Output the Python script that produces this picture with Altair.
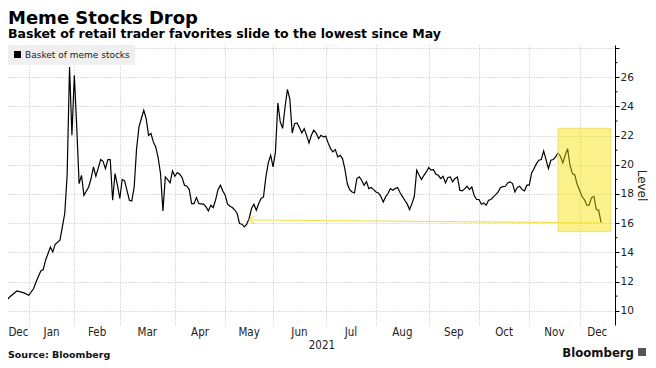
import numpy as np
import pandas as pd
import altair as alt

TITLE = "Meme Stocks Drop"
SUBTITLE = "Basket of retail trader favorites slide to the lowest since May"
SERIES = "Basket of meme stocks"
SOURCE = "Source: Bloomberg"
LOGO = "Bloomberg"
Y_TITLE = "Level"
YEAR = "2021"

dates = [
    "2020-12-15", "2020-12-16", "2020-12-18", "2020-12-21", "2020-12-24", "2020-12-30",
    "2021-01-04", "2021-01-06", "2021-01-07", "2021-01-11", "2021-01-12", "2021-01-13",
    "2021-01-15", "2021-01-19", "2021-01-20", "2021-01-22", "2021-01-25", "2021-01-26",
    "2021-01-27", "2021-01-28", "2021-01-29",
    "2021-02-01", "2021-02-02", "2021-02-03", "2021-02-04", "2021-02-05", "2021-02-09",
    "2021-02-10", "2021-02-11", "2021-02-12", "2021-02-17", "2021-02-18", "2021-02-19",
    "2021-02-22", "2021-02-23", "2021-02-24", "2021-02-25", "2021-02-26",
    "2021-03-01", "2021-03-02", "2021-03-03", "2021-03-05", "2021-03-08", "2021-03-09",
    "2021-03-10", "2021-03-11", "2021-03-12", "2021-03-15", "2021-03-16", "2021-03-17",
    "2021-03-18", "2021-03-19", "2021-03-22", "2021-03-23", "2021-03-24", "2021-03-25",
    "2021-03-26", "2021-03-29", "2021-03-30", "2021-03-31",
    "2021-04-01", "2021-04-05", "2021-04-06", "2021-04-07", "2021-04-08", "2021-04-09",
    "2021-04-12", "2021-04-13", "2021-04-14", "2021-04-15", "2021-04-16", "2021-04-20",
    "2021-04-21", "2021-04-22", "2021-04-23", "2021-04-26", "2021-04-27", "2021-04-28",
    "2021-04-29", "2021-04-30",
    "2021-05-03", "2021-05-04", "2021-05-05", "2021-05-06", "2021-05-07", "2021-05-10",
    "2021-05-11", "2021-05-12", "2021-05-13", "2021-05-14", "2021-05-17", "2021-05-18",
    "2021-05-19", "2021-05-20", "2021-05-21", "2021-05-24", "2021-05-25", "2021-05-26",
    "2021-05-27", "2021-05-28",
    "2021-06-01", "2021-06-02", "2021-06-03", "2021-06-04", "2021-06-07", "2021-06-08",
    "2021-06-09", "2021-06-10", "2021-06-11", "2021-06-14", "2021-06-15", "2021-06-16",
    "2021-06-17", "2021-06-18", "2021-06-21", "2021-06-22", "2021-06-23", "2021-06-24",
    "2021-06-25", "2021-06-28", "2021-06-29", "2021-06-30",
    "2021-07-01", "2021-07-02", "2021-07-06", "2021-07-07", "2021-07-08", "2021-07-09",
    "2021-07-12", "2021-07-13", "2021-07-14", "2021-07-15", "2021-07-16", "2021-07-19",
    "2021-07-20", "2021-07-21", "2021-07-22", "2021-07-23", "2021-07-26", "2021-07-27",
    "2021-07-28", "2021-07-29", "2021-07-30",
    "2021-08-02", "2021-08-03", "2021-08-04", "2021-08-05", "2021-08-06", "2021-08-09",
    "2021-08-10", "2021-08-11", "2021-08-12", "2021-08-13", "2021-08-16", "2021-08-17",
    "2021-08-18", "2021-08-19", "2021-08-20", "2021-08-23", "2021-08-24", "2021-08-25",
    "2021-08-26", "2021-08-27", "2021-08-30", "2021-08-31",
    "2021-09-01", "2021-09-02", "2021-09-03", "2021-09-07", "2021-09-08", "2021-09-09",
    "2021-09-10", "2021-09-13", "2021-09-14", "2021-09-15", "2021-09-16", "2021-09-17",
    "2021-09-20", "2021-09-21", "2021-09-22", "2021-09-23", "2021-09-24", "2021-09-27",
    "2021-09-28", "2021-09-29", "2021-09-30",
    "2021-10-01", "2021-10-04", "2021-10-05", "2021-10-06", "2021-10-07", "2021-10-08",
    "2021-10-11", "2021-10-12", "2021-10-13", "2021-10-14", "2021-10-15", "2021-10-18",
    "2021-10-19", "2021-10-20", "2021-10-21", "2021-10-22", "2021-10-25", "2021-10-26",
    "2021-10-27", "2021-10-28", "2021-10-29",
    "2021-11-01", "2021-11-02", "2021-11-03", "2021-11-04", "2021-11-05", "2021-11-08",
    "2021-11-09", "2021-11-10", "2021-11-11", "2021-11-12", "2021-11-15", "2021-11-16",
    "2021-11-17", "2021-11-18", "2021-11-19", "2021-11-22", "2021-11-23", "2021-11-24",
    "2021-11-26", "2021-11-29", "2021-11-30",
    "2021-12-01", "2021-12-02", "2021-12-03", "2021-12-06", "2021-12-07", "2021-12-08",
    "2021-12-09", "2021-12-10", "2021-12-13", "2021-12-14",
]

values = [
    10.76, 10.80, 10.76, 10.94, 11.35, 11.22,
    11.06, 11.52, 11.97, 12.72, 12.82, 13.46,
    14.37, 14.03, 14.55, 14.83, 15.74, 16.66,
    19.30, 26.70, 22.02,
    26.14, 22.60, 18.71, 19.28, 17.91, 18.48,
    19.06, 19.85, 19.21, 20.36, 20.24, 19.74,
    20.36, 20.36, 17.57, 19.40, 18.60,
    17.69, 18.99, 18.90, 17.57, 17.52, 18.48,
    21.11, 22.60, 23.17, 23.74, 23.17, 22.02,
    22.14, 21.57, 21.22, 20.50, 19.40, 16.84,
    19.17, 18.99, 18.76, 19.58,
    19.21, 19.47, 19.35, 19.13, 18.60, 18.53,
    18.30, 17.34, 17.34, 17.75, 17.34, 17.30,
    17.11, 16.84, 17.23, 17.07, 17.60, 18.30,
    18.60, 18.20,
    17.91, 17.30, 17.16, 17.07, 16.90, 16.66,
    15.97, 15.93, 15.74, 15.93, 16.32, 17.00,
    17.30, 16.88, 17.34, 17.69, 17.80, 19.17,
    20.13, 20.65,
    19.85, 20.88, 24.24, 22.94, 22.50, 23.96,
    25.16, 24.50, 22.18, 22.82, 22.87, 22.55,
    22.18, 22.48, 22.02, 21.50, 22.02, 22.37,
    22.18, 21.80, 22.02, 21.91,
    21.96, 21.50, 21.11, 20.88, 21.04, 20.54,
    20.65, 20.43, 19.70, 18.70, 18.30, 18.14,
    18.07, 19.06, 19.17, 18.94, 18.60, 18.85,
    18.37, 18.44, 18.30,
    18.14, 18.07, 17.84, 17.45, 17.80, 18.03,
    18.37, 18.26, 18.37, 18.44, 18.10, 17.84,
    17.57, 17.32, 16.93, 17.34, 17.84, 19.63,
    19.28, 18.99, 19.28, 19.51,
    19.81, 19.63, 19.67, 19.35, 19.28, 19.06,
    19.21, 18.76, 19.13, 19.17, 18.83, 19.06,
    19.17, 18.26, 18.21, 18.35, 18.53, 18.30,
    18.48, 17.90, 17.62,
    17.62, 17.30, 17.39, 17.23, 17.57, 17.62,
    17.80, 17.95, 18.14, 18.44, 18.50, 18.53,
    18.76, 18.83, 18.71, 18.14, 18.44, 18.53,
    18.30, 18.21, 18.60,
    18.60, 19.44, 19.74, 20.08, 20.31, 20.36,
    20.95, 20.36, 19.74, 20.31, 20.36, 20.54,
    20.81, 20.59, 20.13, 20.65, 21.11, 19.97,
    19.40, 19.30, 18.67,
    18.26, 17.84, 17.62, 17.23, 17.23, 17.75,
    17.84, 16.93, 16.88, 16.02,
]

# market holidays (x axis is spaced by trading sessions)
holidays = ["2020-12-25", "2021-01-01", "2021-01-18", "2021-02-15", "2021-04-02",
            "2021-05-31", "2021-07-05", "2021-09-06", "2021-11-25", "2021-12-24"]
month_firsts = ["2021-01-01", "2021-02-01", "2021-03-01", "2021-04-01", "2021-05-01",
                "2021-06-01", "2021-07-01", "2021-08-01", "2021-09-01", "2021-10-01",
                "2021-11-01", "2021-12-01"]
month_names = ["Dec", "Jan", "Feb", "Mar", "Apr", "May", "Jun", "Jul", "Aug", "Sep",
               "Oct", "Nov", "Dec"]
y_major = list(range(10, 29, 2))
y_minor = list(range(11, 28, 2))
hl_start, hl_end = "2021-11-17", "2021-12-20"
hl_low, hl_high = 15.42, 22.5
arrow_dates = ["2021-05-17", "2021-12-14"]
arrow_values = [16.22, 16.02]

ORIGIN = "2021-01-04"


def tday(d):
    return float(np.busday_count(ORIGIN, d, holidays=holidays))


df = pd.DataFrame({"date": dates, "value": values, "series": SERIES})
df["t"] = [tday(d) for d in dates]

starts = [tday(np.busday_offset(m, 0, roll="forward", holidays=holidays)) for m in month_firsts]
X_MIN, X_MAX = -8.7, 244.8
bounds = [X_MIN] + starts + [X_MAX]
mids = [(a + b) / 2 for a, b in zip(bounds[:-1], bounds[1:])]
months_df = pd.DataFrame({"t": mids, "label": month_names})
year_df = pd.DataFrame({"t": [(starts[0] + X_MAX) / 2], "label": [YEAR]})
hl_df = pd.DataFrame({"t": [tday(hl_start)], "t2": [tday(hl_end)], "value": [hl_low], "v2": [hl_high]})
arrow_df = pd.DataFrame({"t": [tday(d) for d in arrow_dates], "value": arrow_values})
head_df = arrow_df.iloc[[0]]
minor_df = pd.DataFrame({"value": y_minor})

# whole svg is 640 x 352 so that the page (8px margins) fits the 656 x 368 window
W, H = 607, 280
PAD = {"left": 0, "top": 37, "right": 33, "bottom": 35}
FONT = "DejaVu Sans"
LFONT = "DejaVu Sans Condensed, DejaVu Sans"
GRID = "#bdbdbd"
YELLOW = "#f2e24a"

xs = alt.Scale(domain=[X_MIN, X_MAX], nice=False, zero=False)
ys = alt.Scale(domain=[9.02, 28.21], nice=False, zero=False)

x_axis = alt.Axis(values=starts, grid=True, labels=False, ticks=False, domain=False,
                  title=None, gridColor=GRID, gridDash=[1, 2], gridWidth=1)
y_axis = alt.Axis(
    orient="right", values=y_major, title=Y_TITLE,
    labelExpr="datum.value < 27 ? datum.label : ''",
    grid=True, gridColor=GRID, gridDash=[1, 2], gridWidth=1,
    tickSize=4, domainColor="#000000", tickColor="#000000", tickWidth=1,
    labelFont=FONT, labelFontSize=10.5, labelColor="#222222", labelPadding=1,
    titleFont=FONT, titleFontSize=12, titleFontWeight="normal", titleColor="#222222",
    titlePadding=1,
)

X = alt.X("t:Q", scale=xs, axis=x_axis)
Y = alt.Y("value:Q", scale=ys, axis=y_axis)

line = alt.Chart(df).mark_line(strokeWidth=1.2, clip=True).encode(
    x=X, y=Y,
    color=alt.Color("series:N", scale=alt.Scale(range=["#000000"]),
                    legend=alt.Legend(title=None, orient="top-left", offset=0, padding=5,
                                      fillColor="#efefef", symbolType="square", symbolSize=49,
                                      symbolFillColor="#000000", symbolStrokeWidth=0,
                                      labelFont=FONT, labelFontSize=9, labelColor="#222222",
                                      labelOffset=3)),
)

minor = alt.Chart(minor_df).mark_rule(color="#000000", strokeWidth=1).encode(
    x=alt.value(W), x2=alt.value(W + 2.5), y=Y,
)

box = alt.Chart(hl_df).mark_rect(fill="#f7e200", fillOpacity=0.45, stroke="#efe070",
                                 strokeWidth=1).encode(x=X, x2="t2", y=Y, y2="v2")

arrow = alt.Chart(arrow_df).mark_line(color=YELLOW, strokeWidth=1.1).encode(x=X, y=Y)

head = alt.Chart(head_df).mark_point(shape="M1.3,-1L0,0L1.3,1", size=64, filled=False,
                                     color=YELLOW, strokeWidth=1.1, opacity=1).encode(x=X, y=Y)

months = alt.Chart(months_df).mark_text(font=LFONT, fontSize=11.5, color="#222222",
                                        baseline="middle", align="center").encode(
    x=X, y=alt.value(H + 8), text="label:N",
)

year = alt.Chart(year_df).mark_text(font=LFONT, fontSize=11.5, color="#222222",
                                    baseline="middle", align="center").encode(
    x=X, y=alt.value(H + 20.5), text="label:N",
)

source = alt.Chart(pd.DataFrame({"text": [SOURCE]})).mark_text(
    font=FONT, fontSize=9.5, fontWeight="bold", color="#111111", align="left",
    baseline="middle").encode(x=alt.value(0), y=alt.value(H + 30), text="text:N")

logo = alt.Chart(pd.DataFrame({"text": [LOGO]})).mark_text(
    font=LFONT, fontSize=13, fontWeight="bold", color="#111111", align="right",
    baseline="middle").encode(x=alt.value(626), y=alt.value(H + 28), text="text:N")

logo_icon = alt.Chart(pd.DataFrame({"text": [LOGO]})).mark_square(
    size=64, color="#555555", opacity=1).encode(x=alt.value(634), y=alt.value(H + 27))

chart = alt.layer(line, minor, box, arrow, head, months, year, source, logo, logo_icon).properties(
    width=W, height=H,
    padding=PAD,
    autosize=alt.AutoSizeParams(type="none"),
    title=alt.TitleParams(text=TITLE, subtitle=SUBTITLE, anchor="start", frame="group",
                          font=FONT, fontSize=18, fontWeight="bold", color="#000000",
                          subtitleFont=FONT, subtitleFontSize=12.5, subtitleFontWeight="bold",
                          subtitleColor="#000000", subtitlePadding=0, offset=4.5),
).configure_view(stroke=None)

chart.save("out.html", embed_options={"renderer": "svg", "actions": False})
